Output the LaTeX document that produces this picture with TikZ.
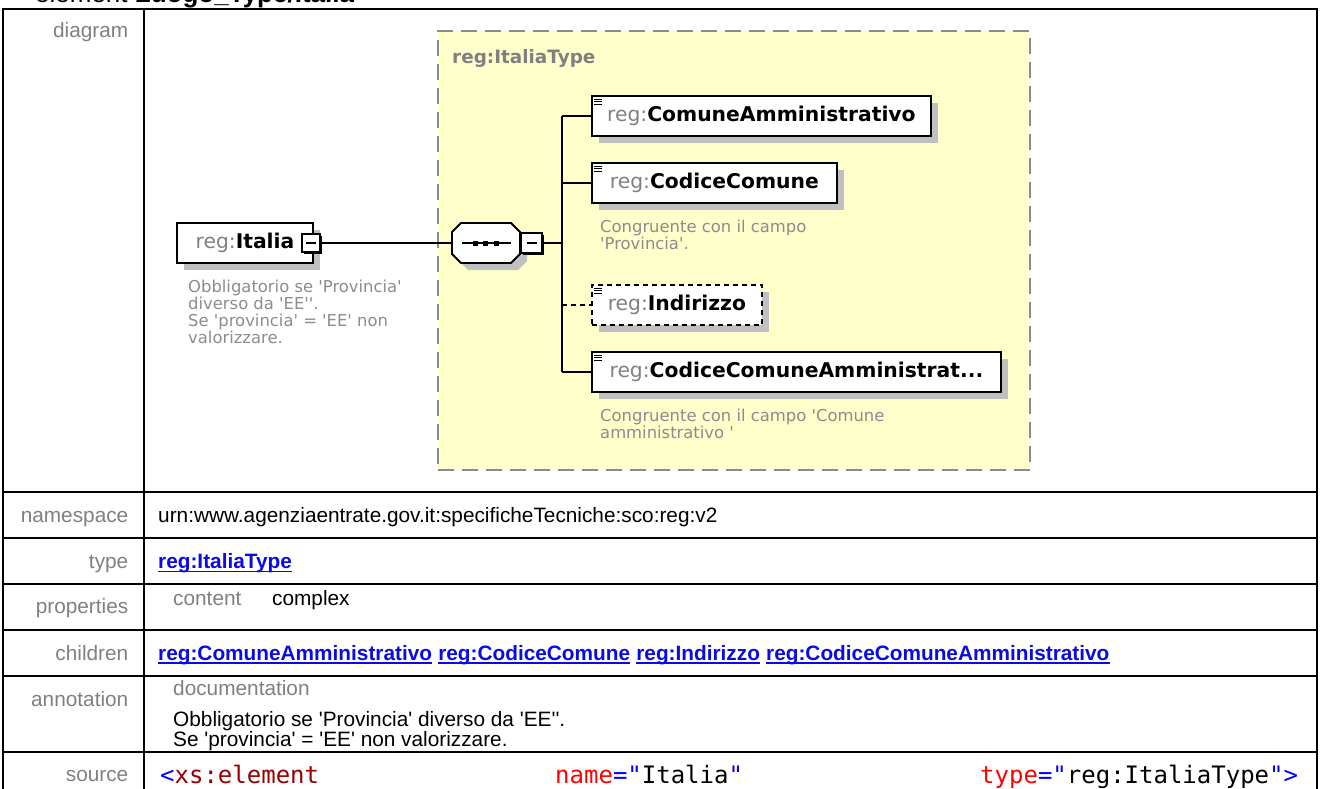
\documentclass[tikz,border=0pt]{standalone}
\usepackage{fontspec}
\setmainfont{Liberation Sans}
\newfontfamily\tabfont{Liberation Sans}
\newfontfamily\xsdfont{DejaVu Sans}
\newfontfamily\codefont{DejaVu Sans Mono}
\usetikzlibrary{positioning,shadows}

\definecolor{labgray}{RGB}{128,128,128}
\definecolor{docgray}{RGB}{140,140,140}
\definecolor{prefgray}{RGB}{128,128,128}
\definecolor{typeyellow}{RGB}{255,255,204}
\definecolor{dashgray}{RGB}{140,140,140}
\definecolor{shadowgray}{RGB}{192,192,192}
\definecolor{linkblue}{RGB}{10,10,230}
\definecolor{codeblue}{RGB}{0,0,255}
\definecolor{codered}{RGB}{255,0,0}
\definecolor{codemaroon}{RGB}{150,0,0}

% element name with its prefix
\newcommand\regname[1]{\textcolor{prefgray}{reg:}\textbf{#1}}
% octagon of a sequence node #1, moved by (#2,#3)
\newcommand\octagon[3]{([shift={({-34+#2},{-11+#3})}]#1.center) -- ([shift={({-25+#2},{-20+#3})}]#1.center)
  -- ([shift={({25+#2},{-20+#3})}]#1.center) -- ([shift={({34+#2},{-11+#3})}]#1.center)
  -- ([shift={({34+#2},{11+#3})}]#1.center) -- ([shift={({25+#2},{20+#3})}]#1.center)
  -- ([shift={({-25+#2},{20+#3})}]#1.center) -- ([shift={({-34+#2},{11+#3})}]#1.center) -- cycle}

\tikzset{
  tabline/.style={line width=2pt},
  rowlabel/.style={anchor=base east, inner sep=0pt, text=labgray, font=\tabfont\fontsize{20.8}{25}\selectfont},
  rowtext/.style={anchor=base west, inner sep=0pt, font=\tabfont\fontsize{20.8}{25}\selectfont},
  reflink/.style={rowtext, text=linkblue, font=\tabfont\bfseries\fontsize{20.8}{25}\selectfont, text depth=3pt},
  linkline/.style={draw=linkblue, line width=1.6pt},
  typebox/.style={draw=dashgray, fill=typeyellow, line width=2.5pt, dash pattern=on 16pt off 8pt, inner sep=0pt},
  elembox/.style={draw, fill=white, line width=1.8pt, minimum height=40pt, inner sep=0pt,
    font=\xsdfont\fontsize{20.3}{24}\selectfont,
    drop shadow={shadow xshift=7pt, shadow yshift=-7pt, fill=shadowgray, opacity=1}},
  optbox/.style={elembox, dash pattern=on 5pt off 4pt},
  seqbox/.style={minimum width=68pt, minimum height=40pt, inner sep=0pt},
  minusbox/.style={draw, fill=white, line width=1.5pt, minimum size=18pt, inner sep=0pt,
    drop shadow={shadow xshift=2pt, shadow yshift=-2pt, fill=black, opacity=1}},
  docnote/.style={anchor=north west, inner sep=0pt, align=left, text=docgray, font=\xsdfont\fontsize{16.4}{17}\selectfont},
  conn/.style={line width=1.8pt},
}

\begin{document}
\begin{tikzpicture}[x=1pt, y=-1pt]
  \useasboundingbox (0,0) rectangle (1320,789);

  % heading, cut by the top edge
  \node[anchor=base west, inner sep=0pt, font=\tabfont\fontsize{26}{30}\selectfont] (title) at (35,2.5) {element \textbf{Luogo\_Type/Italia}};

  % table frame
  \draw[tabline] (3,800) -- (3,9.5) -- (1317,9.5) -- (1317,800);
  \draw[tabline] (144,9.5) -- (144,800);
  \foreach \ry in {492,538,584,630,676,752}
    \draw[tabline] (3,\ry) -- (1317,\ry);

  % row labels
  \node[rowlabel] (lbldiag) at (128.5,37.7) {diagram};
  \node[rowlabel] (lblns) at (128.5,522.3) {namespace};
  \node[rowlabel] (lbltype) at (128.5,568.3) {type};
  \node[rowlabel] (lblprop) at (128.5,613.3) {properties};
  \node[rowlabel] (lblchild) at (128.5,660) {children};
  \node[rowlabel] (lblann) at (128.5,706) {annotation};
  \node[rowlabel] (lblsrc) at (128.5,781) {source};

  % complex type frame
  \node[typebox, minimum width=592pt, minimum height=439pt] (itype) at (734,250.5) {};
  \node[anchor=base west, inner sep=0pt, text=labgray, font=\xsdfont\bfseries\fontsize{18.4}{22}\selectfont] (itypelbl) at (452,64) {reg:ItaliaType};

  % the element
  \node[elembox, minimum width=136pt] (italia) at (245,243) {\regname{Italia}};
  \node[minusbox] (italiamin) at (311,243) {};
  \node[docnote] (italianote) at (188,279.5) {Obbligatorio se 'Provincia'\\diverso da 'EE''.\\Se 'provincia' = 'EE' non\\valorizzare.};

  % sequence
  \node[seqbox] (seq) at (486,243) {};
  \fill[shadowgray] \octagon{seq}{7}{7};
  \draw[line width=1.8pt, fill=white] \octagon{seq}{0}{0};
  \node[minusbox, minimum width=21pt, minimum height=20pt] (seqmin) at (531.5,243) {};
  \draw[line width=1.6pt] ([xshift=10pt]seq.west) -- ([xshift=-9pt]seq.east);
  \foreach \dx in {-11,-1,10}
    \fill ([xshift=\dx pt]seq.center) ++(-2.5,-2.5) rectangle ++(5,5);
  \foreach \m in {italiamin,seqmin}
    \draw[line width=1.4pt] ([xshift=-5pt]\m.center) -- ([xshift=5pt]\m.center);

  % children
  \node[elembox, minimum width=339pt, anchor=west] (comamm) at (591,116) {\regname{ComuneAmministrativo}};
  \node[elembox, minimum width=245pt, anchor=west] (codcom) at (591,183) {\regname{CodiceComune}};
  \node[docnote] (codcomnote) at (600,219.5) {Congruente con il campo\\'Provincia'.};
  \node[optbox, minimum width=170pt, anchor=west] (indir) at (591,305) {\regname{Indirizzo}};
  \node[elembox, minimum width=409pt, anchor=west] (codcomamm) at (591,372) {\regname{CodiceComuneAmministrat...}};
  \node[docnote] (codcomammnote) at (600,408.5) {Congruente con il campo 'Comune\\amministrativo '};

  % little text marks
  \foreach \b in {comamm,codcom,indir,codcomamm}
    \foreach \dy in {4,6.5,9}
      \draw[line width=1.1pt] ([shift={(3,\dy)}]\b.north west) -- ++(8,0);

  % connectors
  \coordinate (trunk) at (562,243);
  \draw[conn] (italiamin.east) -- (seq.west);
  \draw[conn] (seqmin.east) -- (trunk);
  \draw[conn] (trunk |- comamm.west) -- (trunk |- codcomamm.west);
  \draw[conn] (trunk |- comamm.west) -- (comamm.west);
  \draw[conn] (trunk |- codcom.west) -- (codcom.west);
  \draw[conn, dash pattern=on 5pt off 4pt] (trunk |- indir.west) -- (indir.west);
  \draw[conn] (trunk |- codcomamm.west) -- (codcomamm.west);

  % table values
  \node[rowtext] (nsval) at (158,522.3) {urn:www.agenziaentrate.gov.it:specificheTecniche:sco:reg:v2};
  \node[reflink] (tylink) at (158,568.3) {reg:ItaliaType};
  \node[rowtext, text=labgray] (propkey) at (173,605) {content};
  \node[rowtext] (propval) at (272,605) {complex};
  \node[reflink] (ch1) at (158,660) {reg:ComuneAmministrativo};
  \node[reflink, base right=5.8pt of ch1] (ch2) {reg:CodiceComune};
  \node[reflink, base right=5.8pt of ch2] (ch3) {reg:Indirizzo};
  \node[reflink, base right=5.8pt of ch3] (ch4) {reg:CodiceComuneAmministrativo};
  \foreach \n in {tylink,ch1,ch2,ch3,ch4}
    \draw[linkline] (\n.south west) -- (\n.south east);
  \node[rowtext, text=labgray] (dockey) at (173,695) {documentation};
  \node[rowtext] (docl1) at (173,726.5) {Obbligatorio se 'Provincia' diverso da 'EE''.};
  \node[rowtext] (docl2) at (173,746) {Se 'provincia' = 'EE' non valorizzare.};

  % source, cut by the bottom edge
  \node[anchor=base west, inner sep=0pt, font=\codefont\fontsize{24}{28}\selectfont] (src1) at (160,783) {\textcolor{codeblue}{<}\textcolor{codemaroon}{xs:element}};
  \node[anchor=base west, inner sep=0pt, font=\codefont\fontsize{24}{28}\selectfont] (src2) at (555,783) {\textcolor{codered}{name}\textcolor{codeblue}{="}Italia\textcolor{codeblue}{"}};
  \node[anchor=base west, inner sep=0pt, font=\codefont\fontsize{24}{28}\selectfont] (src3) at (980,783) {\textcolor{codered}{type}\textcolor{codeblue}{="}reg:ItaliaType\textcolor{codeblue}{">}};
\end{tikzpicture}
\end{document}
